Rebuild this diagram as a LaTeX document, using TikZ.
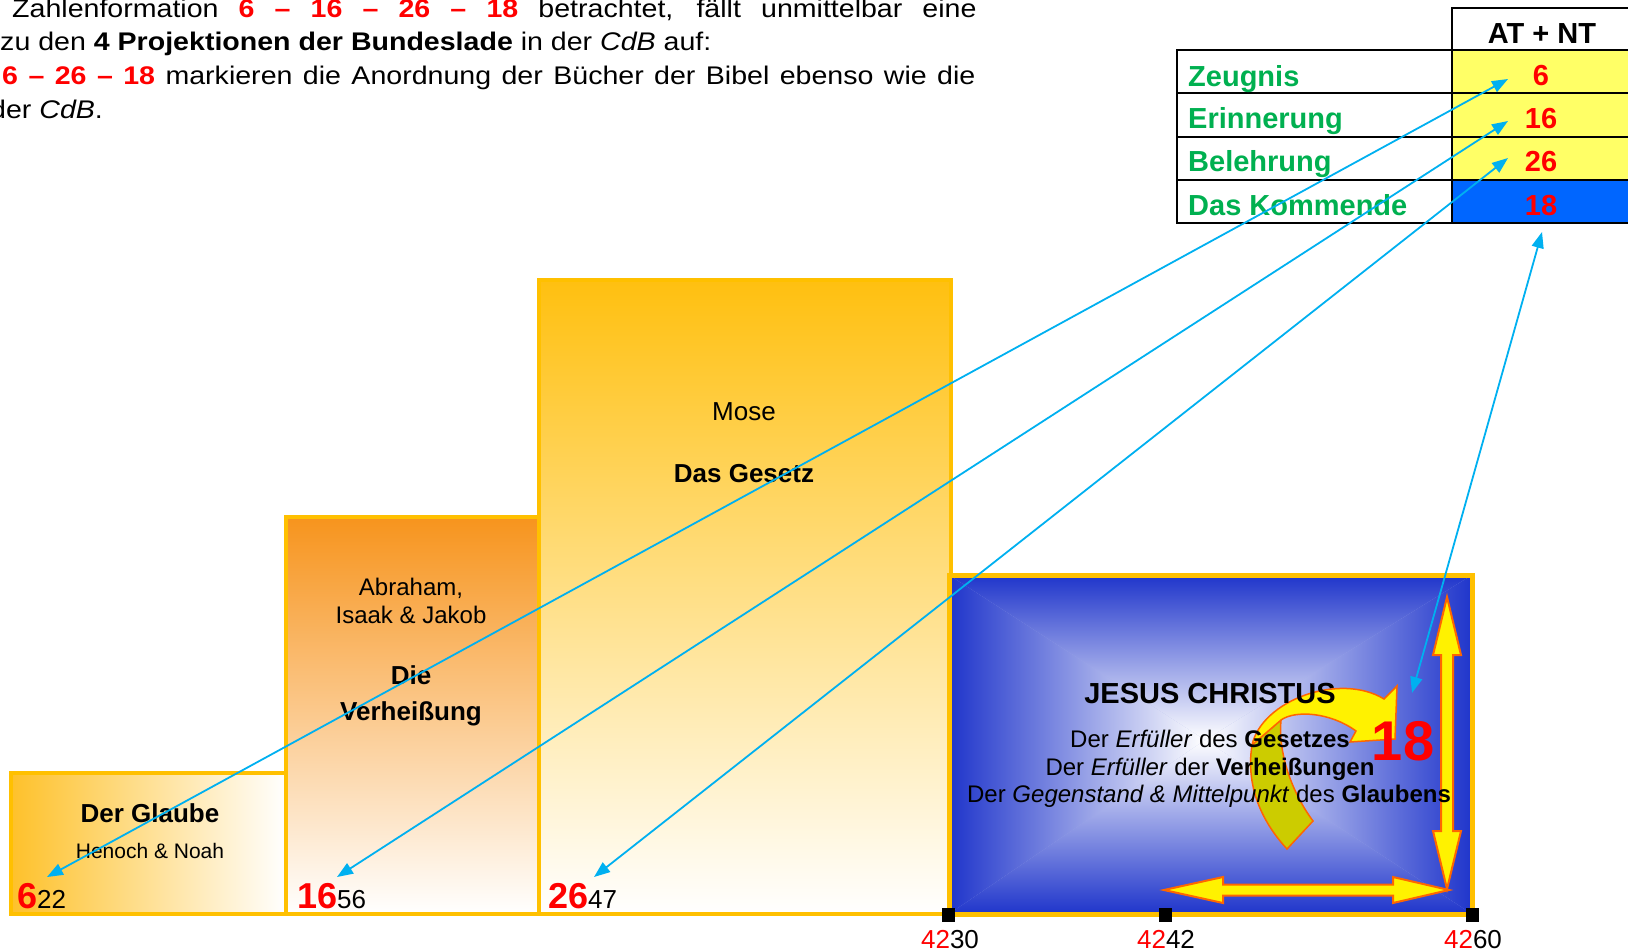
\documentclass[tikz,border=0pt]{standalone}
\usepackage{fontspec}
\setmainfont{Liberation Sans}
\usetikzlibrary{arrows.meta}

\definecolor{gold}{HTML}{FFC000}
\definecolor{goldtop}{HTML}{FFC010}
\definecolor{glaubegold}{HTML}{FEC12A}
\definecolor{orangetop}{HTML}{F7941D}
\definecolor{jblue}{HTML}{1F35CB}
\definecolor{cellyellow}{HTML}{FFFF66}
\definecolor{cellblue}{HTML}{0066FF}
\definecolor{tabgreen}{HTML}{00B050}
\definecolor{linkcyan}{HTML}{00B0F0}
\definecolor{arroworange}{HTML}{FF6600}
\definecolor{ribbonolive}{HTML}{CCCC00}

\newcommand{\fsz}[1]{\fontsize{#1}{#1}\selectfont}
\newcommand{\bignum}[1]{{\fsz{36}\bfseries\color{red}#1}}

\begin{document}
\begin{tikzpicture}[x=1pt, y=-1pt, every node/.style={inner sep=0pt}, >={Triangle[length=16pt, width=12pt]},
	boxline/.style={draw=gold, line width=4pt},
	yarrow/.style={fill=yellow, draw=arroworange, line width=2pt},
	link/.style={<->, linkcyan, line width=1.8pt},
	introline/.style={font=\fsz{25.5}, anchor=base west, xscale=1.12},
	tabtext/.style={font=\fsz{29}\bfseries, text=tabgreen, anchor=base west},
	tabnum/.style={font=\fsz{29}\bfseries, text=red, anchor=base},
	boxtext/.style={font=\fsz{24}, anchor=base},
	boxhead/.style={font=\fsz{26}\bfseries, anchor=base},
	yearlabel/.style={font=\fsz{26}, anchor=base},
	tick/.style={fill=black, minimum width=13pt, minimum height=14pt}]
	\useasboundingbox (0,0) rectangle (1628,951);
	\clip (0,0) rectangle (1628,951);

	\node[introline] (intro1) at (12,17) {\makebox[861pt][s]{Zahlenformation \textcolor{red}{\textbf{6 – 16 – 26 – 18}} betrachtet, fällt unmittelbar eine}};
	\node[introline] (intro2) at (0,50) {zu den \textbf{4 Projektionen der Bundeslade} in der \textit{CdB} auf:};
	\node[introline] (intro3) at (2,84) {\makebox[869pt][s]{\textcolor{red}{\textbf{6 – 26 – 18}} markieren die Anordnung der Bücher der Bibel ebenso wie die}};
	\node[introline] (intro4) at (-10,118) {der \textit{CdB}.};

	\shade[left color=glaubegold, right color=white] (11,773) rectangle (286,914);
	\draw[boxline] (11,773) rectangle (286,914);
	\shade[top color=orangetop, bottom color=white] (286,517) rectangle (539,914);
	\draw[boxline] (286,517) rectangle (539,914);
	\shade[top color=goldtop, bottom color=white] (539,280) rectangle (951,914);
	\draw[boxline] (539,280) rectangle (951,914);

	\coordinate (jnw) at (949,575);
	\coordinate (jne) at (1472,575);
	\coordinate (jsw) at (949,914);
	\coordinate (jse) at (1472,914);
	\coordinate (jc) at (1205,740);
	\fill[jblue!40!white] (jnw) rectangle (jse);
	\begin{scope}
		\clip (jnw) -- (jne) -- (jc) -- cycle;
		\shade[top color=jblue, bottom color=white] (jnw) rectangle (jc -| jne);
	\end{scope}
	\begin{scope}
		\clip (jsw) -- (jse) -- (jc) -- cycle;
		\shade[bottom color=jblue, top color=white] (jsw) rectangle (jc -| jse);
	\end{scope}
	\begin{scope}
		\clip (jnw) -- (jsw) -- (jc) -- cycle;
		\shade[left color=jblue, right color=white] (jnw) rectangle (jc |- jsw);
	\end{scope}
	\begin{scope}
		\clip (jne) -- (jse) -- (jc) -- cycle;
		\shade[right color=jblue, left color=white] (jne) rectangle (jc |- jse);
	\end{scope}
	\draw[draw=gold, line width=5pt] (jnw) rectangle (jse);

	\filldraw[fill=ribbonolive, draw=arroworange, line width=1.5pt] (1252,745) .. controls (1245,790) and (1265,825) .. (1287,849) -- (1313,821) .. controls (1290,790) and (1278,750) .. (1281,720) -- cycle;
	\filldraw[yarrow, line width=1.5pt] (1252,745) .. controls (1262,700) and (1340,672) .. (1384,699) -- (1397,686) -- (1395,739) -- (1350,742) -- (1356,731) .. controls (1330,712) and (1295,710) .. (1281,720) -- cycle;
	\filldraw[yarrow] (1447,597) -- (1461,655) -- (1453,655) -- (1453,831) -- (1461,831) -- (1447,889) -- (1433,831) -- (1441,831) -- (1441,655) -- (1433,655) -- cycle;
	\filldraw[yarrow] (1164,890) -- (1223,877) -- (1223,884.5) -- (1393,884.5) -- (1393,877) -- (1449,890) -- (1393,903) -- (1393,895.5) -- (1223,895.5) -- (1223,903) -- cycle;

	\node[boxhead] (glaube) at (150,822) {Der Glaube};
	\node[font=\fsz{21}, anchor=base] (henoch) at (150,858) {Henoch \& Noah};
	\node[boxtext] (abraham) at (411,595) {Abraham,};
	\node[boxtext] (isaak) at (411,623) {Isaak \& Jakob};
	\node[boxhead] (die) at (411,684) {Die};
	\node[boxhead] (verheissung) at (411,720) {Verheißung};
	\node[font=\fsz{26}, anchor=base] (mose) at (744,420) {Mose};
	\node[boxhead] (gesetz) at (744,482) {Das Gesetz};
	\node[anchor=base west, font=\fsz{26}] (n622) at (17,908) {\bignum{6}22};
	\node[anchor=base west, font=\fsz{26}] (n1656) at (297,908) {\bignum{16}56};
	\node[anchor=base west, font=\fsz{26}] (n2647) at (548,908) {\bignum{26}47};

	\node[font=\fsz{29}\bfseries, anchor=base] (jesus) at (1210,703) {JESUS CHRISTUS};
	\node[boxtext] (erfuell1) at (1210,747) {Der \textit{Erfüller} des \textbf{Gesetzes}};
	\node[boxtext] (erfuell2) at (1210,775) {Der \textit{Erfüller} der \textbf{Verheißungen}};
	\node[boxtext] (erfuell3) at (1209,802) {Der \textit{Gegenstand \& Mittelpunkt} des \textbf{Glaubens}};
	\node[font=\fsz{56}\bfseries, text=red, anchor=base] (achtzehn) at (1403,760) {18};

	\node[tick] (tick30) at (948,915) {};
	\node[tick] (tick42) at (1165,915) {};
	\node[tick] (tick60) at (1472,915) {};
	\node[yearlabel] (year30) at (950,948) {\textcolor{red}{42}30};
	\node[yearlabel] (year42) at (1166,948) {\textcolor{red}{42}42};
	\node[yearlabel] (year60) at (1473,948) {\textcolor{red}{42}60};

	\fill[cellyellow] (1452,50) rectangle (1640,180);
	\fill[cellblue] (1452,180) rectangle (1640,223);
	\draw[line width=2.5pt] (1177,50) rectangle (1640,223);
	\draw[line width=2.5pt] (1177,93) -- (1640,93) (1177,137) -- (1640,137) (1177,180) -- (1640,180);
	\draw[line width=2.5pt] (1640,8) -- (1452,8) -- (1452,223);
	\node[font=\fsz{29}\bfseries, anchor=base] (atnt) at (1542,43) {AT + NT};
	\node[tabtext] (zeugnis) at (1188,86) {Zeugnis};
	\node[tabtext] (erinnerung) at (1188,128) {Erinnerung};
	\node[tabtext] (belehrung) at (1188,171) {Belehrung};
	\node[tabtext] (kommende) at (1188,215) {Das Kommende};
	\node[tabnum] (v6) at (1541,85) {6};
	\node[tabnum] (v16) at (1541,128) {16};
	\node[tabnum] (v26) at (1541,171) {26};
	\node[tabnum] (v18) at (1541,215) {18};

	\coordinate (z6) at (1508,79);
	\coordinate (z16) at (1508,121);
	\coordinate (z26) at (1508,158);
	\coordinate (z18) at (1542,232);
	\coordinate (g6) at (47,877);
	\coordinate (g16) at (337,877);
	\coordinate (g26) at (594,877);
	\coordinate (g18) at (1412,693);
	\draw[link] (z6) -- (g6);
	\draw[link] (z16) -- (g16);
	\draw[link] (z26) -- (g26);
	\draw[link] (z18) -- (g18);
\end{tikzpicture}
\end{document}
